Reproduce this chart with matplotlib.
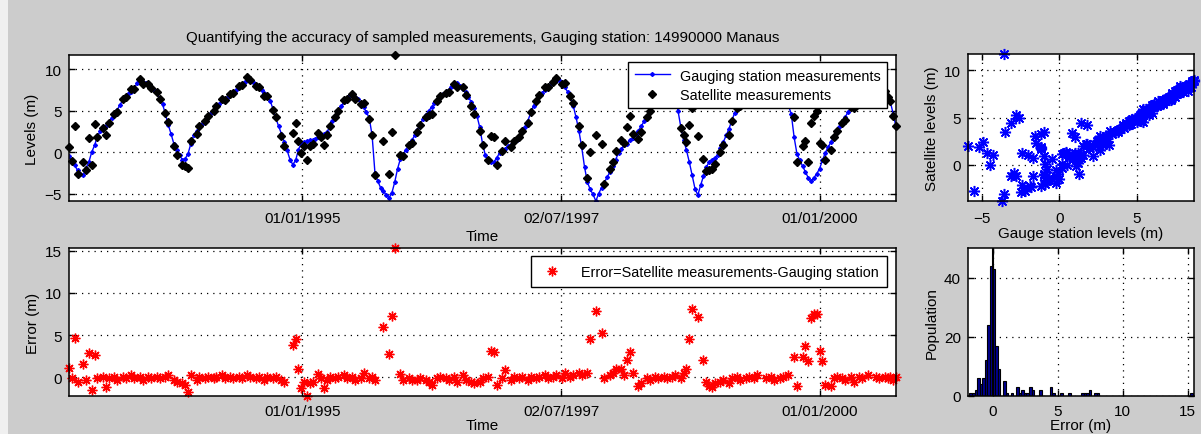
import numpy as np
import pandas as pd
import matplotlib
matplotlib.use("Agg")
import matplotlib.pyplot as plt
import matplotlib.dates as mdates
from matplotlib.patches import Rectangle

nan = np.nan

# satellite pass dates, 10-day repeat cycle
dates = pd.date_range("1992-09-29", periods=293, freq="10D")

# gauging station levels (m) at each pass
gauge_levels = [
    -0.5, -1.0, -1.6, -2.2, -2.7, -2.8, -1.9, -1.2, 0.0, 0.8,
    1.9, 2.5, 2.8, 3.2, 3.6, 4.1, 4.5, 5.1, 5.7, 6.3,
    6.8, 7.1, 7.3, 7.7, 8.3, 8.7, 8.5, 8.3, 8.1, 7.8,
    7.5, 7.1, 6.5, 5.8, 4.6, 3.3, 2.2, 1.0, 0.2, -0.4,
    -0.9, -0.8, -0.2, 1.0, 2.0, 2.5, 3.0, 3.4, 3.9, 4.3,
    4.7, 5.1, 5.4, 5.8, 6.1, 6.4, 6.7, 6.9, 7.2, 7.5,
    7.9, 8.2, 8.5, 8.7, 8.6, 8.4, 8.1, 7.8, 7.5, 7.1,
    6.7, 6.2, 5.2, 4.1, 3.1, 2.2, 1.2, 0.2, -0.9, -1.5,
    -1.0, 0.3, 1.1, 1.2, 1.3, 1.4, 1.5, 1.6, 1.8, 1.9,
    2.2, 2.4, 3.0, 3.7, 4.3, 4.9, 5.5, 6.0, 6.5, 6.8,
    6.9, 6.7, 6.4, 5.9, 5.4, 4.8, 4.1, 2.0, -2.5, -3.5,
    -4.3, -4.7, -5.2, -5.5, -4.9, -3.6, -2.0, -0.8, -0.2, 0.3,
    0.9, 1.4, 2.0, 2.7, 3.4, 4.0, 4.5, 5.0, 5.4, 5.9,
    6.3, 6.7, 7.0, 7.2, 7.5, 7.8, 8.1, 8.3, 8.0, 7.6,
    7.2, 6.7, 6.0, 5.3, 4.4, 3.0, 1.0, -0.4, -1.0, -1.2,
    -1.2, -0.7, -0.1, 0.2, 0.4, 0.7, 0.9, 1.2, 1.5, 1.9,
    2.4, 3.0, 3.8, 4.7, 5.6, 6.3, 6.8, 7.1, 7.5, 7.9,
    8.2, 8.4, 8.6, 8.7, 8.3, 7.8, 7.3, 6.7, 5.6, 4.2,
    2.6, 0.6, -1.8, -3.6, -4.5, -5.1, -5.9, -5.0, -4.3, -3.7,
    -3.0, -2.4, -1.7, -0.9, -0.1, 0.4, 0.8, 1.0, 1.4, 1.7,
    2.2, 2.6, 3.1, 3.7, 4.3, 5.3, 6.1, 6.7, 7.2, 7.7,
    8.0, 8.2, 7.9, 7.3, 6.4, 5.0, 3.0, 1.5, 0.2, -1.2,
    -2.8, -4.4, -5.2, -4.0, -2.9, -1.8, -1.2, -0.9, -0.7, -0.3,
    0.5, 1.2, 2.0, 2.8, 3.8, 4.7, 5.2, 5.8, 6.3, 6.7,
    7.0, 7.3, 7.6, 7.9, 8.1, 8.3, 8.4, 8.4, 8.2, 8.0,
    7.7, 7.2, 6.7, 6.1, 5.6, 4.6, 1.8, -0.2, -1.0, -1.7,
    -2.4, -3.1, -3.5, -3.1, -2.6, -2.0, -1.0, -0.1, 0.6, 1.2,
    1.9, 2.5, 3.0, 3.6, 4.2, 4.8, 5.3, 5.8, 6.3, 6.8,
    7.2, 7.5, 7.8, 8.0, 8.2, 8.3, 8.1, 7.8, 7.3, 6.7,
    6.0, 4.6, 3.0,
]

# satellite minus gauge (m), nan where no satellite pass was kept
errors = [
    1.1, -0.1, 4.7, -0.5, nan, 1.6, -0.3, 2.9, -1.5, 2.6,
    -0.1, nan, 0.1, -1.1, -0.1, nan, 0.1, -0.3, nan, 0.1,
    -0.1, nan, 0.3, -0.1, nan, 0.1, -0.3, nan, 0.1, -0.1,
    nan, 0.1, -0.1, nan, 0.1, 0.3, nan, -0.3, -0.5, nan,
    -0.7, -0.9, -1.7, 0.3, nan, -0.3, 0.1, nan, -0.1, 0.1,
    nan, -0.1, 0.1, nan, 0.3, -0.1, nan, 0.1, -0.1, nan,
    0.1, -0.1, nan, 0.3, 0.1, nan, -0.1, 0.1, nan, -0.3,
    0.1, nan, -0.1, 0.1, nan, -0.3, -0.5, nan, nan, 3.8,
    4.5, 1.0, -1.2, -0.5, -2.2, -0.7, -0.5, nan, 0.45, -0.1,
    -1.3, -0.3, 0.1, nan, -0.1, 0.1, nan, 0.3, -0.1, nan,
    0.1, -0.3, nan, -0.1, 0.5, nan, -0.1, 0.1, -0.3, nan,
    nan, 6.0, nan, 2.8, 7.3, 15.3, nan, 0.42, -0.3, nan,
    -0.1, -0.3, nan, -0.3, -0.1, nan, -0.3, -0.5, -0.85, nan,
    -0.1, 0.1, nan, -0.1, -0.3, nan, 0.1, -0.5, nan, 0.3,
    -0.3, nan, -0.5, -0.7, nan, -0.5, -0.1, nan, 0.1, 3.1,
    3.0, -0.9, nan, -0.1, 0.9, nan, -0.3, 0.1, nan, -0.1,
    0.1, nan, -0.3, 0.1, nan, -0.1, 0.1, nan, 0.3, -0.1,
    nan, 0.1, 0.3, nan, -0.1, 0.5, nan, 0.1, 0.3, nan,
    0.5, 0.3, nan, 0.5, 4.5, nan, 7.9, nan, 5.3, -0.1,
    nan, 0.3, 0.5, 1.0, nan, 1.0, 0.3, 2.0, 3.0, 0.5,
    nan, -1.0, -0.7, nan, -0.1, -0.3, nan, 0.1, -0.1, nan,
    0.1, -0.1, nan, 0.1, 0.3, nan, -0.1, 0.5, 1.0, 4.5,
    8.1, nan, 7.1, nan, 2.1, -0.5, -1.0, -1.1, -0.7, nan,
    -0.5, -0.3, nan, -0.7, -0.1, nan, 0.1, -0.3, nan, -0.1,
    0.1, nan, -0.1, 0.3, nan, nan, -0.1, nan, 0.1, -0.3,
    nan, -0.1, 0.1, nan, 0.3, nan, 2.4, -1.0, nan, 2.4,
    3.7, 1.9, 7.0, 7.5, 7.5, 3.1, 1.9, -0.85, nan, -1.0,
    -0.1, 0.1, nan, -0.1, -0.3, nan, 0.1, -0.5, nan, 0.1,
    -0.1, nan, 0.3, nan, nan, 0.1, -0.1, nan, 0.1, -0.1,
    0.1, -0.3, 0.1,
]

date_ticks = pd.to_datetime(["1995-01-01", "1997-07-02", "2000-01-01"])
title = "Quantifying the accuracy of sampled measurements, Gauging station: 14990000 Manaus"

plt.rcParams["font.family"] = ["Liberation Sans", "DejaVu Sans"]
plt.rcParams["font.size"] = 11

gauge = np.array(gauge_levels)
err = np.array(errors)
satellite = gauge + err


def matlab_style(ax, xpad=7):
    ax.grid(True, color="k", linestyle=(0, (1, 4)), linewidth=0.9)
    ax.set_axisbelow(True)
    ax.tick_params(direction="in", top=True, right=True, length=4, width=1,
                   labelsize=11, pad=5)
    ax.tick_params(axis="x", pad=xpad)
    for sp in ax.spines.values():
        sp.set_linewidth(1.1)
        sp.set_zorder(5)


legend_style = dict(loc="upper right", borderaxespad=0, fancybox=False,
                    edgecolor="k", framealpha=1, fontsize=10.4)

fig = plt.figure(figsize=(12.01, 4.35), dpi=100, facecolor="#cccccc")
fig.patches.append(Rectangle((0, 0), 8 / 1201, 1, transform=fig.transFigure,
                             facecolor="#f0f0f0", edgecolor="none", zorder=-1))
ax_lvl = fig.add_axes([0.0575, 0.5356, 0.6886, 0.3356])
ax_err = fig.add_axes([0.0575, 0.0874, 0.6886, 0.3402])
ax_sc = fig.add_axes([0.806, 0.5356, 0.1882, 0.338])
ax_hist = fig.add_axes([0.806, 0.0874, 0.1882, 0.3402])

# levels through time
ax_lvl.plot(dates, gauge, color="b", marker="D", markersize=2, linewidth=1,
            label="Gauging station measurements")
ax_lvl.plot(dates, satellite, linestyle="none", marker="D", markersize=3.8,
            color="k", label="Satellite measurements", clip_on=False)
ax_lvl.set_xlim(dates[0], dates[-1])
ax_lvl.set_ylim(min(np.nanmin(gauge), np.nanmin(satellite)),
                max(np.nanmax(gauge), np.nanmax(satellite)))
ax_lvl.set_title(title, fontsize=10.8, pad=10)
ax_lvl.set_ylabel("Levels (m)")
ax_lvl.set_xlabel("Time", labelpad=3)
ax_lvl.legend(bbox_to_anchor=(0.989, 0.952), handlelength=2.4, borderpad=0.45,
              labelspacing=0.35, handletextpad=0.7, **legend_style)

# error through time
ax_err.plot(dates, err, linestyle="none", marker=(8, 2, 0), markersize=7,
            markeredgewidth=1, color="r", clip_on=False,
            label="Error=Satellite measurements-Gauging station")
ax_err.set_xlim(dates[0], dates[-1])
ax_err.set_ylim(np.nanmin(err), np.nanmax(err))
ax_err.set_yticks([0, 5, 10, 15])
ax_err.set_ylabel("Error (m)")
ax_err.set_xlabel("Time", labelpad=0)
ax_err.legend(bbox_to_anchor=(0.989, 0.946), handlelength=1.6, borderpad=0.6,
              handletextpad=1.2, **legend_style)

matlab_style(ax_lvl)
matlab_style(ax_err, xpad=6)
for ax in (ax_lvl, ax_err):
    ax.set_xticks(date_ticks)
    ax.xaxis.set_major_formatter(mdates.DateFormatter("%d/%m/%Y"))

# satellite against gauge
ax_sc.plot(gauge, satellite, linestyle="none", marker=(8, 2, 0), markersize=8,
           markeredgewidth=1.1, color="b", clip_on=False)
ax_sc.set_xlim(np.nanmin(gauge), np.nanmax(gauge))
ax_sc.set_ylim(np.nanmin(satellite), np.nanmax(satellite))
ax_sc.set_xticks([-5, 0, 5])
ax_sc.set_yticks([0, 5, 10])
ax_sc.set_xlabel("Gauge station levels (m)", labelpad=1)
ax_sc.set_ylabel("Satellite levels (m)")
matlab_style(ax_sc)

# error distribution
edges = np.arange(-2.4, 15.61, 0.2)
ax_hist.hist(err[~np.isnan(err)], bins=edges, color=(0, 0, 0.56),
             edgecolor="k", linewidth=0.8)
ax_hist.axvline(0, color="k", linewidth=1.5)
ax_hist.set_xlim(-1.9, 15.5)
ax_hist.set_ylim(0, 50)
ax_hist.set_xticks([0, 5, 10, 15])
ax_hist.set_yticks([0, 20, 40])
ax_hist.set_xlabel("Error (m)", labelpad=0)
ax_hist.set_ylabel("Population")
matlab_style(ax_hist, xpad=6)

fig.savefig("out.png", dpi=100, facecolor=fig.get_facecolor())
